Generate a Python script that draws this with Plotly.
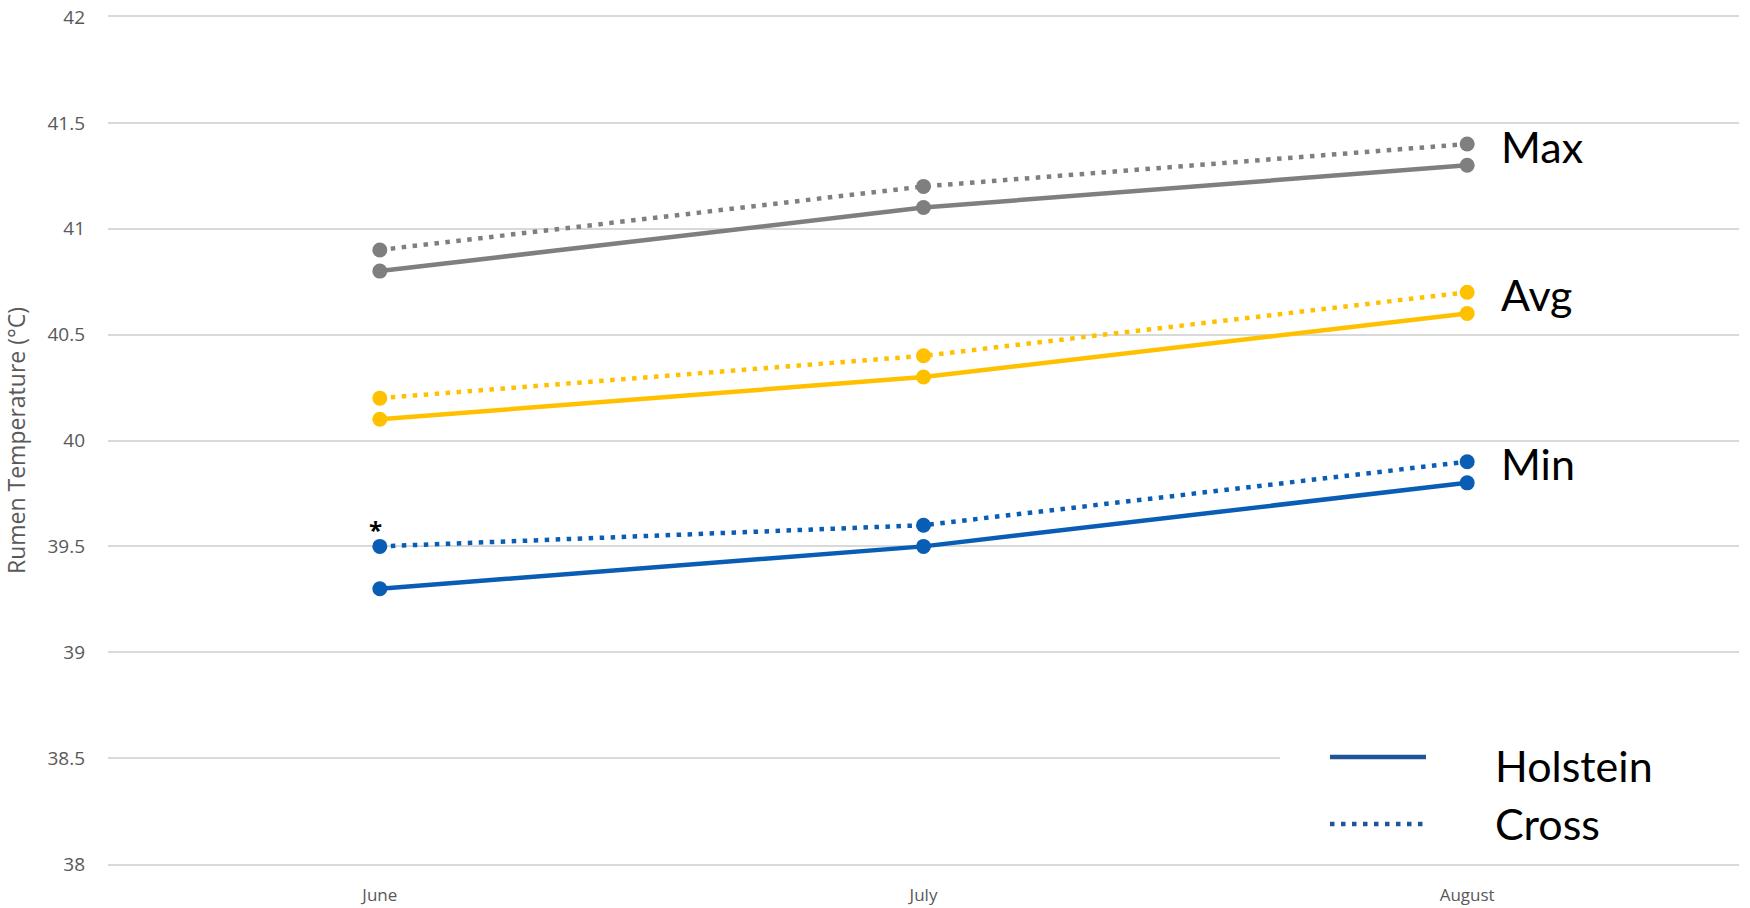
import plotly.graph_objects as go

# Monthly rumen temperature (°C) by breed
months = ["June", "July", "August"]

max_holstein = [40.8, 41.1, 41.3]
max_cross = [40.9, 41.2, 41.4]
avg_holstein = [40.1, 40.3, 40.6]
avg_cross = [40.2, 40.4, 40.7]
min_holstein = [39.3, 39.5, 39.8]
min_cross = [39.5, 39.6, 39.9]

y_ticks = [38, 38.5, 39, 39.5, 40, 40.5, 41, 41.5, 42]
y_tick_text = ["38", "38.5", "39", "39.5", "40", "40.5", "41", "41.5", "42"]

series_labels = ["Max", "Avg", "Min"]
legend_labels = ["Holstein", "Cross"]

GREY = "#7F7F7F"
GOLD = "#FFC000"
BLUE = "#0A5DB4"
GRID = "#D9D9D9"
DOT_DASH = "4.5px,6.5px"

# plot area in pixels (for the key placed in paper coordinates)
PL, PR, PT, PB = 108, 1739, 17, 864


def px_x(x):
    return (x - PL) / (PR - PL)


def px_y(y):
    return 1 - (y - PT) / (PB - PT)


groups = [
    (max_holstein, max_cross, GREY),
    (avg_holstein, avg_cross, GOLD),
    (min_holstein, min_cross, BLUE),
]

fig = go.Figure()
for holstein, cross, color in groups:
    fig.add_trace(go.Scatter(
        x=months, y=holstein, mode="lines+markers",
        line=dict(color=color, width=4.5),
        marker=dict(color=color, size=15, symbol="circle"),
        showlegend=False, hoverinfo="x+y",
    ))
    fig.add_trace(go.Scatter(
        x=months, y=cross, mode="lines+markers",
        line=dict(color=color, width=4.5, dash=DOT_DASH),
        marker=dict(color=color, size=15, symbol="circle"),
        showlegend=False, hoverinfo="x+y",
    ))

# Series names at the right end of each pair
for (holstein, cross, color), name in zip(groups, series_labels):
    fig.add_annotation(
        x=months[-1], y=cross[-1], text=name, showarrow=False,
        xanchor="left", yanchor="middle", xshift=32, yshift=-2,
        font=dict(family="Lato", size=43, color="#000000"),
    )

# Significance marker above June crossbred minimum
fig.add_annotation(
    x=months[0], y=min_cross[0], text="<b>*</b>", showarrow=False,
    xanchor="center", yanchor="bottom", yshift=-2, xshift=-4,
    font=dict(family="Open Sans", size=24, color="#000000"),
)

# Line-style key in the lower right corner
fig.add_shape(type="rect", xref="paper", yref="paper",
              x0=px_x(1280), x1=1.01, y0=px_y(850), y1=px_y(700),
              fillcolor="white", line=dict(width=0), layer="above")
key_rows = [(757, 765, "solid"), (824, 823, DOT_DASH)]
for (line_y, text_y, dash), label in zip(key_rows, legend_labels):
    fig.add_shape(type="line", xref="paper", yref="paper",
                  x0=px_x(1330), x1=px_x(1426), y0=px_y(line_y), y1=px_y(line_y),
                  line=dict(color="#1F5597", width=4.5, dash=dash), layer="above")
    fig.add_annotation(
        xref="paper", yref="paper", x=px_x(1493), y=px_y(text_y),
        text=label, showarrow=False, xanchor="left", yanchor="middle",
        font=dict(family="Lato", size=43, color="#000000"),
    )

fig.update_layout(
    width=1750, height=908,
    margin=dict(l=PL, r=1750 - PR, t=PT, b=908 - PB),
    paper_bgcolor="white", plot_bgcolor="white",
    showlegend=False,
    xaxis=dict(
        type="category", range=[-0.5, 2.5], automargin=False,
        showgrid=False, zeroline=False,
        showline=True, mirror=True, linecolor=GRID, linewidth=1.5,
        ticks="", ticklabelstandoff=15,
        tickfont=dict(family="Open Sans", size=17, color="#595959"),
    ),
    yaxis=dict(
        range=[38, 42], tickvals=y_ticks, ticktext=y_tick_text, automargin=False,
        showgrid=True, gridcolor=GRID, gridwidth=1.5, zeroline=False,
        showline=False, ticks="", ticklabelstandoff=22,
        tickfont=dict(family="Open Sans", size=19, color="#595959"),
        title=dict(text="Rumen Temperature (°C)", standoff=20,
                   font=dict(family="Open Sans", size=23, color="#595959")),
    ),
)

fig.write_html("out.html")
